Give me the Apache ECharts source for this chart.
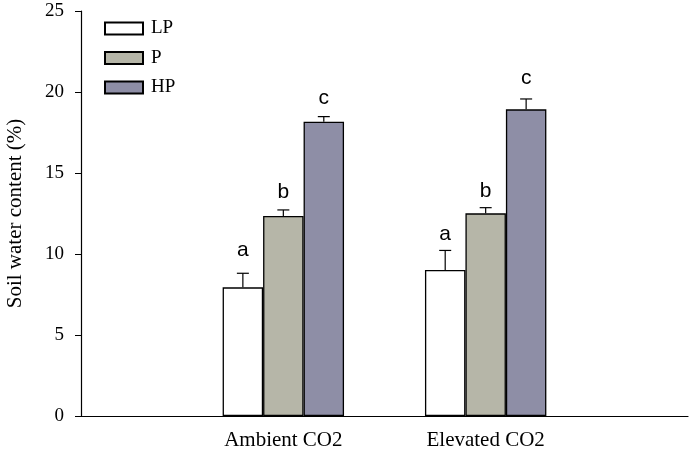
<!DOCTYPE html>
<html>
<head>
<meta charset="utf-8">
<script src="https://cdn.jsdelivr.net/npm/echarts@6/dist/echarts.min.js"></script>
<style>html,body{margin:0;padding:0;background:#fff}#c{width:693px;height:451px}</style>
</head>
<body>
<div id="c"></div>
<script>
var categories = ['', 'Ambient CO2', 'Elevated CO2', ''];
var seriesNames = ['LP', 'P', 'HP'];
var LP = [null, 7.94, 9.01, null];
var P = [null, 12.35, 12.51, null];
var HP = [null, 18.17, 18.93, null];
var LPerr = [null, 8.81, 10.22, null];
var Perr = [null, 12.72, 12.86, null];
var HPerr = [null, 18.48, 19.57, null];
var LPletter = [null, 'a', 'a', null];
var Pletter = [null, 'b', 'b', null];
var HPletter = [null, 'c', 'c', null];
var LPletterY = [null, 10.25, 11.23, null];
var PletterY = [null, 13.83, 13.85, null];
var HPletterY = [null, 19.63, 20.86, null];
var yTicks = [0, 5, 10, 15, 20, 25];

var colors = ['#ffffff', '#b6b6a8', '#8e8ea6'];
var means = [LP, P, HP];
var errs = [LPerr, Perr, HPerr];
var letters = [LPletter, Pletter, HPletter];
var letterYs = [LPletterY, PletterY, HPletterY];
var BAR_FRAC = 0.2;
var SERIF = '"Liberation Serif", "Times New Roman", serif';

var errData = [], letterData = [];
for (var k = 0; k < 3; k++) {
  for (var i = 0; i < categories.length; i++) {
    if (means[k][i] != null) {
      errData.push([i, k, means[k][i], errs[k][i]]);
      letterData.push([i, k, letterYs[k][i], letters[k][i]]);
    }
  }
}

var series = [];
for (var k = 0; k < 3; k++) {
  series.push({
    name: seriesNames[k], type: 'bar', data: means[k],
    barWidth: (BAR_FRAC * 100) + '%', barGap: '0%',
    itemStyle: { color: colors[k], borderColor: '#000', borderWidth: 1.3 },
    z: 2
  });
}
series.push({
  type: 'custom', data: errData, z: 3,
  renderItem: function (params, api) {
    var band = api.size([1, 0])[0];
    var off = (api.value(1) - 1) * BAR_FRAC * band;
    var base = api.coord([api.value(0), api.value(2)]);
    var top = api.coord([api.value(0), api.value(3)]);
    var x = base[0] + off;
    return { type: 'group', children: [
      { type: 'line', shape: { x1: x, y1: base[1], x2: x, y2: top[1] }, style: { stroke: '#000', lineWidth: 1.2 } },
      { type: 'line', shape: { x1: x - 6, y1: top[1], x2: x + 6, y2: top[1] }, style: { stroke: '#000', lineWidth: 1.2 } }
    ]};
  }
});
series.push({
  type: 'custom', data: letterData, z: 4,
  renderItem: function (params, api) {
    var band = api.size([1, 0])[0];
    var off = (api.value(1) - 1) * BAR_FRAC * band;
    var p = api.coord([api.value(0), api.value(2)]);
    return { type: 'text', style: { x: p[0] + off, y: p[1], text: letterData[params.dataIndex][3],
      font: '21px "Liberation Sans", Arial, sans-serif', fill: '#000', align: 'center', verticalAlign: 'middle' } };
  }
});

var chart = echarts.init(document.getElementById('c'));
chart.setOption({
  animation: false,
  grid: { left: 81, right: 5, top: 11, bottom: 35, containLabel: false, outerBoundsMode: 'none' },
  legend: {
    data: seriesNames, orient: 'vertical', left: 104, top: 19, padding: 0,
    icon: 'rect', itemWidth: 38, itemHeight: 12, itemGap: 10.5,
    textStyle: { fontFamily: SERIF, fontSize: 19, color: '#000', padding: [0, 0, 0, 3] }
  },
  xAxis: {
    type: 'category', data: categories, boundaryGap: false,
    axisLine: { lineStyle: { color: '#000', width: 1.2 } },
    axisTick: { show: false },
    axisLabel: { interval: 0, margin: 14, color: '#000', fontSize: 21, fontFamily: SERIF },
    splitLine: { show: false }
  },
  yAxis: {
    type: 'value', min: yTicks[0], max: yTicks[yTicks.length - 1], interval: 5,
    name: 'Soil water content (%)', nameLocation: 'middle', nameGap: 55,
    nameTextStyle: { color: '#000', fontSize: 21, fontFamily: SERIF },
    axisLine: { show: true, lineStyle: { color: '#000', width: 1.2 } },
    axisTick: { show: true, inside: false, length: 6, lineStyle: { color: '#000' } },
    axisLabel: { margin: 17, color: '#000', fontSize: 19, fontFamily: SERIF },
    splitLine: { show: false }
  },
  series: series
});
</script>
</body>
</html>
